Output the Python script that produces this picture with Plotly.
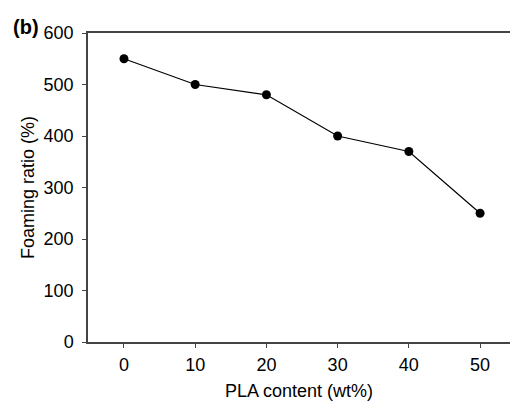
import plotly.graph_objects as go

pla_content = [0, 10, 20, 30, 40, 50]
foaming_ratio = [550, 500, 480, 400, 370, 250]
x_ticks = [0, 10, 20, 30, 40, 50]
y_ticks = [0, 100, 200, 300, 400, 500, 600]

fig = go.Figure()
fig.add_trace(go.Scatter(
    x=pla_content, y=foaming_ratio, mode="lines+markers",
    line=dict(color="black", width=1.2),
    marker=dict(color="black", size=9),
    showlegend=False,
))

fam = "Arial"
tickfont = dict(family=fam, size=18, color="black")
titlefont = dict(family=fam, size=18, color="black")
fig.update_layout(
    width=510, height=403,
    margin=dict(l=88, r=0, t=33, b=61),
    paper_bgcolor="white", plot_bgcolor="white",
    font=dict(family=fam, size=18, color="black"),
    xaxis=dict(
        range=[-5.05, 54.2], tickvals=x_ticks, ticks="outside", ticklen=4,
        tickcolor="#444", showline=True, linecolor="#444", linewidth=1.5,
        mirror=True, showgrid=False, zeroline=False, tickfont=tickfont,
        ticklabelstandoff=2,
        title=dict(text="PLA content (wt%)", standoff=10, font=titlefont),
    ),
    yaxis=dict(
        range=[0, 600], tickvals=y_ticks, ticks="outside", ticklen=4,
        tickcolor="#444", showline=True, linecolor="#444", linewidth=1.5,
        showgrid=False, zeroline=False, tickfont=tickfont,
        ticklabelstandoff=5,
        title=dict(text="Foaming ratio (%)", standoff=4, font=titlefont),
    ),
)
fig.add_annotation(text="<b>(b)</b>", xref="paper", yref="paper",
                   x=-0.182, y=1.02, xanchor="left", yanchor="middle",
                   showarrow=False, font=dict(family=fam, size=20, color="black"))
fig.write_html("out.html")
